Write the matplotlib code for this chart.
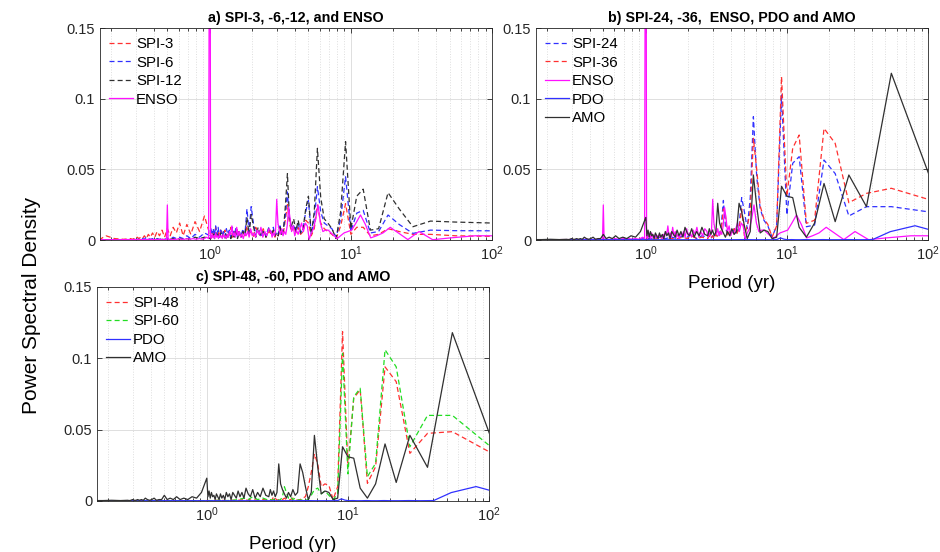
import matplotlib
matplotlib.use("Agg")
import matplotlib.pyplot as plt
import numpy as np
from matplotlib.ticker import LogLocator, NullFormatter

plt.rcParams["font.family"] = ["Liberation Sans", "DejaVu Sans"]
plt.rcParams["mathtext.fontset"] = "custom"
plt.rcParams["mathtext.rm"] = "Liberation Sans"
plt.rcParams["mathtext.default"] = "regular"

# record lengths (years); period of harmonic k = years / k
SPI_YEARS = 110.0
AMO_YEARS = 110.0
ENSO_YEARS = 152.0
PDO_YEARS = 162.0

# harmonic numbers
DENSE_K = list(range(1, 41)) + list(range(42, 111, 2)) + list(range(120, 401, 10)) + [450, 520, 600, 660]
QUIET_K = list(range(1, 41)) + [44, 48, 52, 56, 60, 66, 72, 80, 90, 100, 110, 130, 160, 200, 260, 330, 440, 660]
ENSO_K = (list(range(1, 57)) + list(range(58, 151, 2)) + [152] +
          [155, 160, 170, 180, 190, 200, 210, 220, 230, 240, 250, 260, 270, 280, 290, 300,
           304, 308, 320, 340, 360, 380, 400, 440, 480, 540, 600, 700, 800, 912])
PDO_K = list(range(1, 21)) + [24, 28, 32, 40, 50, 60, 80, 100, 130, 162, 220, 300, 420, 600, 972]

SPI3 = [0.0025, 0.003, 0.004, 0.004, 0.006, 0.008, 0.004, 0.003, 0.009, 0.009,
        0.004, 0.0257, 0.010, 0.001, 0.004, 0.006, 0.008, 0.012, 0.0248, 0.008,
        0.003, 0.012, 0.014, 0.006, 0.004, 0.009, 0.005, 0.010, 0.006, 0.012,
        0.025, 0.015, 0.006, 0.004, 0.008, 0.003, 0.005, 0.002, 0.007, 0.004,
        0.006, 0.002, 0.008, 0.003, 0.005, 0.009, 0.002, 0.006, 0.004, 0.010,
        0.003, 0.007, 0.002, 0.005, 0.008, 0.003, 0.006, 0.002, 0.009, 0.004,
        0.006, 0.002, 0.007, 0.003, 0.005, 0.008, 0.002, 0.006, 0.003, 0.009,
        0.004, 0.007, 0.002, 0.006, 0.004,
        0.017, 0.006, 0.013, 0.004, 0.011, 0.003, 0.012, 0.005, 0.009, 0.003,
        0.008, 0.002, 0.007, 0.003, 0.006, 0.002, 0.005, 0.002, 0.004, 0.001,
        0.003, 0.001, 0.002, 0.001, 0.002, 0.0005, 0.001, 0.0005, 0.001,
        0.0005, 0.001, 0.003, 0.0005]

SPI6 = [0.0065, 0.0066, 0.007, 0.0047, 0.011, 0.0177, 0.006, 0.005, 0.021, 0.019,
        0.006, 0.0448, 0.015, 0.002, 0.008, 0.010, 0.012, 0.020, 0.0377, 0.015,
        0.004, 0.028, 0.020, 0.008, 0.005, 0.012, 0.006, 0.010, 0.008, 0.015,
        0.034, 0.018, 0.008, 0.005, 0.010, 0.004, 0.006, 0.003, 0.009, 0.005,
        0.009, 0.003, 0.007, 0.002, 0.008, 0.004, 0.012, 0.0236, 0.006, 0.022,
        0.004, 0.008, 0.003, 0.006, 0.002, 0.008, 0.003, 0.009, 0.002, 0.007,
        0.004, 0.008, 0.002, 0.006, 0.003, 0.007, 0.002, 0.009, 0.004, 0.010,
        0.003, 0.008, 0.005, 0.009, 0.003,
        0.005, 0.002, 0.004, 0.001, 0.003, 0.001, 0.002, 0.001, 0.002, 0.0005,
        0.001, 0.0005, 0.001, 0.0005, 0.001, 0.0005, 0.001, 0.0005, 0.001, 0.002,
        0.0005, 0.001, 0.0005, 0.0005, 0.0005, 0.0003, 0.0005, 0.0003, 0.0003,
        0.0003, 0.0003, 0.0002, 0.0002]

SPI12 = [0.0119, 0.0127, 0.0134, 0.0094, 0.022, 0.0335, 0.008, 0.007, 0.036, 0.031,
         0.008, 0.0696, 0.020, 0.001, 0.008, 0.012, 0.015, 0.030, 0.0649, 0.020,
         0.004, 0.031, 0.022, 0.008, 0.005, 0.014, 0.006, 0.015, 0.010, 0.016,
         0.047, 0.025, 0.008, 0.004, 0.009, 0.003, 0.005, 0.003, 0.007, 0.004,
         0.008, 0.002, 0.006, 0.003, 0.009, 0.002, 0.010, 0.018, 0.004, 0.016,
         0.003, 0.006, 0.002, 0.005, 0.001, 0.006, 0.002, 0.005, 0.001, 0.004,
         0.002, 0.005, 0.001, 0.004, 0.002, 0.005, 0.001, 0.004, 0.002, 0.005,
         0.001, 0.004, 0.002, 0.003, 0.001,
         0.002, 0.001, 0.002, 0.0005, 0.001, 0.0005, 0.001, 0.0005, 0.001, 0.0005,
         0.0005, 0.0003, 0.0005, 0.0003, 0.0005, 0.0003, 0.0003, 0.0003, 0.0003, 0.0003,
         0.0003, 0.0003, 0.0003, 0.0003, 0.0003, 0.0002, 0.0002, 0.0002, 0.0002,
         0.0002, 0.0002, 0.0002, 0.0002]

AMO = [0.037, 0.118, 0.0236, 0.046, 0.013, 0.040, 0.012, 0.002, 0.009, 0.030,
       0.031, 0.038, 0.002, 0.001, 0.006, 0.007, 0.005, 0.024, 0.046, 0.006,
       0.001, 0.010, 0.020, 0.026, 0.006, 0.004, 0.008, 0.003, 0.006, 0.002,
       0.005, 0.008, 0.012, 0.026, 0.006, 0.003, 0.007, 0.004, 0.008, 0.003,
       0.004, 0.009, 0.003, 0.006, 0.002, 0.008, 0.003, 0.005, 0.009, 0.002,
       0.006, 0.003, 0.007, 0.002, 0.004, 0.006, 0.001, 0.005, 0.003, 0.006,
       0.001, 0.004, 0.002, 0.005, 0.001, 0.003, 0.005, 0.001, 0.004, 0.003,
       0.006, 0.002, 0.007, 0.003, 0.016,
       0.006, 0.002, 0.003, 0.001, 0.002, 0.001, 0.003, 0.001, 0.002, 0.001,
       0.004, 0.001, 0.001, 0.0005, 0.002, 0.001, 0.0005, 0.001, 0.002, 0.0005,
       0.001, 0.0005, 0.001, 0.0005, 0.0005, 0.001, 0.0005, 0.0003, 0.0005,
       0.0003, 0.0005, 0.0003, 0.0003]

SPI24 = [0.0194, 0.0236, 0.0236, 0.017, 0.047, 0.0566, 0.0106, 0.0094, 0.059, 0.0543,
         0.0177, 0.1026, 0.010, 0.002, 0.010, 0.014, 0.022, 0.045, 0.0873, 0.030,
         0.008, 0.020, 0.030, 0.010, 0.005, 0.008, 0.004, 0.006, 0.003, 0.010,
         0.028, 0.012, 0.004, 0.002, 0.005, 0.002, 0.003, 0.001, 0.004, 0.002,
         0.003, 0.001, 0.004, 0.002, 0.003, 0.001, 0.002, 0.001, 0.002, 0.001,
         0.001, 0.0005, 0.0005, 0.0003, 0.0003, 0.0002, 0.0002, 0.0002]

SPI36 = [0.0276, 0.0366, 0.033, 0.0264, 0.0684, 0.079, 0.014, 0.0118, 0.0743, 0.065,
         0.031, 0.1156, 0.010, 0.002, 0.011, 0.015, 0.024, 0.050, 0.072, 0.020,
         0.010, 0.003, 0.022, 0.008, 0.004, 0.008, 0.005, 0.006, 0.003, 0.018,
         0.022, 0.008, 0.003, 0.002, 0.004, 0.001, 0.003, 0.001, 0.003, 0.001,
         0.002, 0.001, 0.003, 0.001, 0.002, 0.001, 0.001, 0.0005, 0.001, 0.0005,
         0.0005, 0.0003, 0.0003, 0.0002, 0.0002, 0.0002, 0.0002, 0.0002]

SPI48 = [0.0323, 0.0486, 0.0474, 0.0334, 0.0836, 0.094, 0.024, 0.0124, 0.078, 0.072,
         0.024, 0.1187, 0.010, 0.001, 0.011, 0.012, 0.010, 0.026, 0.033, 0.020,
         0.010, 0.003, 0.002, 0.001, 0.0005, 0.001, 0.002, 0.001, 0.0005, 0.001,
         0.002, 0.001, 0.0005, 0.001, 0.0005, 0.002, 0.003, 0.0005, 0.001, 0.0005,
         0.001, 0.0005, 0.001, 0.0005, 0.001, 0.0005, 0.0005, 0.0003, 0.0005, 0.0003,
         0.0003, 0.0002, 0.0002, 0.0002, 0.0002, 0.0002, 0.0002, 0.0002]

SPI60 = [0.0357, 0.060, 0.060, 0.038, 0.094, 0.106, 0.0264, 0.017, 0.079, 0.073,
         0.019, 0.1035, 0.005, 0.001, 0.004, 0.007, 0.005, 0.009, 0.008, 0.004,
         0.001, 0.0005, 0.001, 0.0005, 0.001, 0.002, 0.001, 0.003, 0.002, 0.006,
         0.010, 0.003, 0.001, 0.0005, 0.001, 0.0005, 0.001, 0.0005, 0.001, 0.0005,
         0.002, 0.001, 0.003, 0.001, 0.002, 0.001, 0.0005, 0.0003, 0.0005, 0.0003,
         0.0003, 0.0002, 0.0002, 0.0002, 0.0002, 0.0002, 0.0002, 0.0002]

ENSO = [0.003, 0.003, 0.0015, 0.0002, 0.006, 0.0003, 0.005, 0.009, 0.005, 0.003,
        0.0015, 0.011, 0.0177, 0.012, 0.007, 0.006, 0.005, 0.003, 0.001, 0.003,
        0.005, 0.007, 0.007, 0.006, 0.012, 0.0248, 0.015, 0.008, 0.005, 0.0005,
        0.010, 0.012, 0.006, 0.012, 0.008, 0.004, 0.007, 0.003, 0.010, 0.006,
        0.015, 0.023, 0.010, 0.004, 0.006, 0.003, 0.008, 0.004, 0.007, 0.012,
        0.0288, 0.006, 0.003, 0.005, 0.002, 0.006,
        0.008, 0.003, 0.006, 0.002, 0.009, 0.004, 0.007, 0.002, 0.005, 0.003,
        0.008, 0.002, 0.006, 0.003, 0.005, 0.001, 0.004, 0.002, 0.006, 0.003,
        0.009, 0.002, 0.005, 0.003, 0.010, 0.004, 0.006, 0.002, 0.004, 0.001,
        0.003, 0.002, 0.004, 0.001, 0.003, 0.002, 0.004, 0.001, 0.003, 0.002,
        0.005, 0.001, 0.003, 0.002, 0.004, 0.001, 0.002,
        0.40,
        0.001, 0.002, 0.0005, 0.001, 0.0005, 0.001, 0.0005, 0.001, 0.0005, 0.0005,
        0.001, 0.0005, 0.0005, 0.0003, 0.0005, 0.0003, 0.0248, 0.0003, 0.0003, 0.0005,
        0.0003, 0.0003, 0.0005, 0.0003, 0.0003, 0.0003, 0.0003, 0.0002, 0.0002, 0.0002]

PDO = [0.0019, 0.0101, 0.0059, 0.0003, 0.0002, 0.0003, 0.0002, 0.0002, 0.0003, 0.0002,
       0.0002, 0.0003, 0.0002, 0.0002, 0.0003, 0.0002, 0.0006, 0.0015, 0.0004, 0.0002,
       0.0002, 0.0002, 0.0003, 0.0002, 0.0002, 0.0002, 0.0002, 0.0002, 0.0002, 0.0002,
       0.0002, 0.0002, 0.0002, 0.0002, 0.0002]

RED, BLUE, DARK, MAGENTA, GREEN = "#ff3030", "#3030ff", "#303030", "#ff10ff", "#22dd22"
DASH = (4, 2.5)


def period(years, ks):
    return years / np.asarray(ks, dtype=float)


def style(ax, title, xlabel=None):
    ax.set_xscale("log")
    ax.set_xlim(1 / 6, 100)
    ax.set_ylim(0, 0.15)
    ax.set_yticks([0, 0.05, 0.1, 0.15])
    ax.set_yticklabels(["0", "0.05", "0.1", "0.15"])
    ax.xaxis.set_minor_locator(LogLocator(base=10, subs=np.arange(2, 10)))
    ax.xaxis.set_minor_formatter(NullFormatter())
    ax.grid(True, which="major", color="#dedede", lw=0.7)
    ax.grid(True, which="minor", axis="x", color="#dedede", lw=0.7, ls=":")
    ax.set_axisbelow(True)
    ax.tick_params(which="both", direction="in", top=True, right=True,
                   colors="#262626", labelsize=10.5, width=0.6)
    ax.tick_params(which="major", length=3.5)
    ax.tick_params(which="minor", length=2)
    for s in ax.spines.values():
        s.set_color("#262626")
        s.set_linewidth(0.6)
    ax.set_title(title, fontsize=10.3, fontweight="bold", pad=4)
    if xlabel:
        ax.set_xlabel(xlabel, fontsize=13.5, labelpad=8)
    ax.legend(loc="upper left", frameon=False, fontsize=10.8, handlelength=1.6,
              handletextpad=0.2, labelspacing=0.3, borderaxespad=0.2, borderpad=0.4)


fig = plt.figure(figsize=(9.4, 5.52), dpi=100)
ax_a = fig.add_axes([0.1064, 0.5652, 0.417, 0.384])
ax_b = fig.add_axes([0.5702, 0.5652, 0.417, 0.384])
ax_c = fig.add_axes([0.1032, 0.0924, 0.417, 0.3877])

lw = 0.9
# a) SPI-3, -6, -12 and ENSO
ax_a.plot(period(SPI_YEARS, DENSE_K), SPI3, color=RED, lw=lw, dashes=DASH, label="SPI-3")
ax_a.plot(period(SPI_YEARS, DENSE_K), SPI6, color=BLUE, lw=lw, dashes=DASH, label="SPI-6")
ax_a.plot(period(SPI_YEARS, DENSE_K), SPI12, color=DARK, lw=lw, dashes=DASH, label="SPI-12")
ax_a.plot(period(ENSO_YEARS, ENSO_K), ENSO, color=MAGENTA, lw=lw, label="ENSO")
style(ax_a, "a) SPI-3, -6,-12, and ENSO")

# b) SPI-24, -36, ENSO, PDO, AMO
ax_b.plot(period(SPI_YEARS, QUIET_K), SPI24, color=BLUE, lw=lw, dashes=DASH, label="SPI-24")
ax_b.plot(period(SPI_YEARS, QUIET_K), SPI36, color=RED, lw=lw, dashes=DASH, label="SPI-36")
ax_b.plot(period(ENSO_YEARS, ENSO_K), ENSO, color=MAGENTA, lw=lw, label="ENSO")
ax_b.plot(period(PDO_YEARS, PDO_K), PDO, color=BLUE, lw=lw, label="PDO")
ax_b.plot(period(AMO_YEARS, DENSE_K), AMO, color=DARK, lw=lw, label="AMO")
style(ax_b, "b) SPI-24, -36,  ENSO, PDO and AMO", "Period (yr)")

# c) SPI-48, -60, PDO, AMO
ax_c.plot(period(SPI_YEARS, QUIET_K), SPI48, color=RED, lw=lw, dashes=DASH, label="SPI-48")
ax_c.plot(period(SPI_YEARS, QUIET_K), SPI60, color=GREEN, lw=lw, dashes=DASH, label="SPI-60")
ax_c.plot(period(PDO_YEARS, PDO_K), PDO, color=BLUE, lw=lw, label="PDO")
ax_c.plot(period(AMO_YEARS, DENSE_K), AMO, color=DARK, lw=lw, label="AMO")
style(ax_c, "c) SPI-48, -60, PDO and AMO", "Period (yr)")

fig.text(0.034, 0.447, "Power Spectral Density", rotation=90, fontsize=15,
         ha="center", va="center", color="#000000")

fig.savefig("out.png", dpi=100)
